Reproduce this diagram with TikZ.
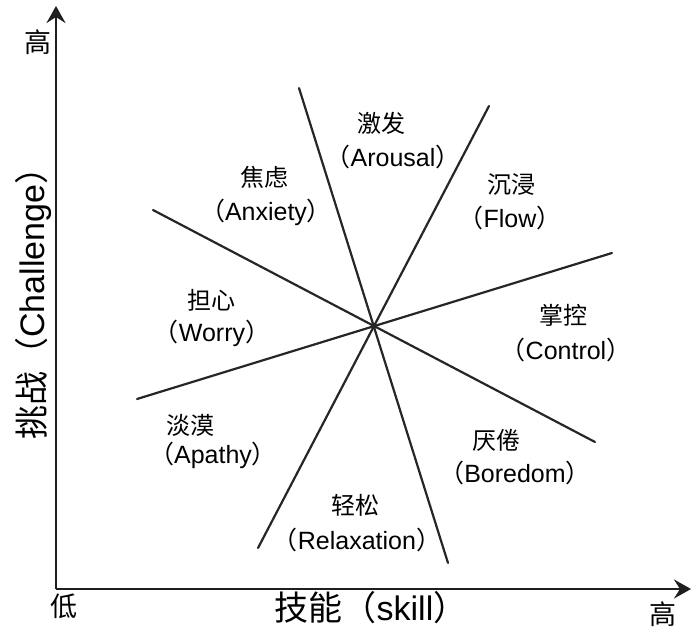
\documentclass[tikz,border=0pt]{standalone}
\usepackage{fontspec}
\setmainfont{Liberation Sans}
\newfontfamily\cjkf{Noto Sans CJK SC}
\usetikzlibrary{arrows.meta}
\begin{document}
\begin{tikzpicture}[x=1pt,y=-1pt,
  axisline/.style={line width=2.6pt,draw=black!88,-{Stealth[length=17pt,width=19pt,inset=6pt]}},
  zone/.style={line width=2.2pt,draw=black!85},
  zh/.style={font=\cjkf\fontsize{24}{26}\selectfont,inner sep=0pt},
  en/.style={font=\fontsize{25}{27}\selectfont,inner sep=0pt},
  axlab/.style={font=\fontsize{34}{36}\selectfont,inner sep=0pt},
  tick/.style={font=\cjkf\fontsize{27}{29}\selectfont,inner sep=0pt}]
\useasboundingbox (0,0) rectangle (691,634);
% axes
\coordinate (O) at (56,589);
\coordinate (Ytop) at (56,6);
\coordinate (Xend) at (691,589);
\draw[axisline] (O) -- (Ytop);
\draw[axisline] (O) -- (Xend);
% zone lines
\coordinate (A1) at (153,210); \coordinate (A2) at (595,442);
\coordinate (B1) at (299,88);  \coordinate (B2) at (448,563);
\coordinate (C1) at (489,106); \coordinate (C2) at (258,548);
\coordinate (D1) at (137,399); \coordinate (D2) at (612,253);
\draw[zone,line cap=round] (A1) -- (A2);
\draw[zone,line cap=round] (B1) -- (B2);
\draw[zone,line cap=round] (C1) -- (C2);
\draw[zone,line cap=round] (D1) -- (D2);
% labels
\node[zh] (arz) at (381,123) {激发};
\node[en] (are) at (393,157) {{\cjkf （}Arousal{\cjkf ）}};
\node[zh] (anz) at (264,177) {焦虑};
\node[en] (ane) at (266,212) {{\cjkf （}Anxiety{\cjkf ）}};
\node[zh] (flz) at (511,185) {沉浸};
\node[en] (fle) at (510,218) {{\cjkf （}Flow{\cjkf ）}};
\node[zh] (woz) at (211,300) {担心};
\node[en] (woe) at (212,333) {{\cjkf （}Worry{\cjkf ）}};
\node[zh] (coz) at (563,315) {掌控};
\node[en] (coe) at (566,350) {{\cjkf （}Control{\cjkf ）}};
\node[zh] (apz) at (190,425) {淡漠};
\node[en] (ape) at (213,455) {{\cjkf （}Apathy{\cjkf ）}};
\node[zh] (boz) at (496,440) {厌倦};
\node[en] (boe) at (515,473) {{\cjkf （}Boredom{\cjkf ）}};
\node[zh] (rez) at (355,505) {轻松};
\node[en] (ree) at (357,540) {{\cjkf （}Relaxation{\cjkf ）}};
% axis labels
\node[axlab] (xl) at (371,608) {{\cjkf 技能（}skill{\cjkf ）}};
\node[axlab,rotate=90] (yl) at (33,295) {{\cjkf 挑战（}Challenge{\cjkf ）}};
\node[tick] (lo) at (64,606) {低};
\node[tick] (hix) at (663,614) {高};
\node[tick] (hiy) at (38,42) {高};
\end{tikzpicture}
\end{document}
